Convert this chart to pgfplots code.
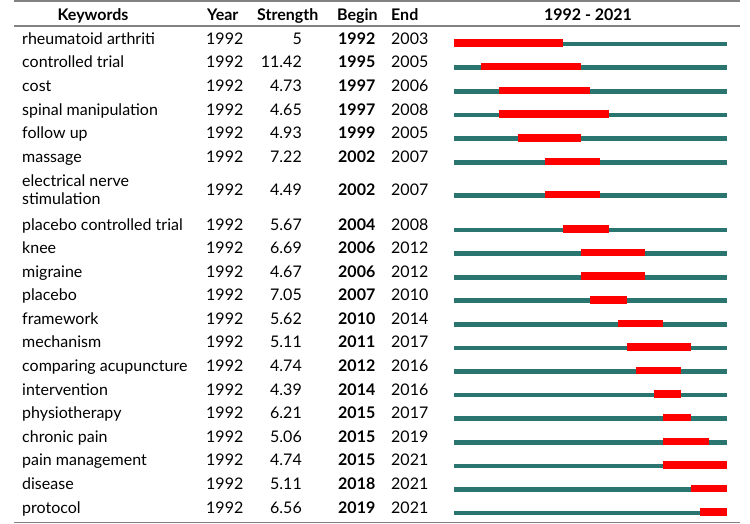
\documentclass[border=0pt]{standalone}
\usepackage{fontspec}
\setmainfont{Lato}
\usepackage{pgfplots}
\pgfplotsset{compat=1.18}
\definecolor{tealbar}{RGB}{42,117,112}
\definecolor{rulegray}{RGB}{130,130,130}
\newcommand{\fs}{\fontsize{16}{19}\selectfont}
% text row: y, keyword, strength, begin, end
\newcommand{\trow}[5]{%
  \node[anchor=base west,inner sep=0pt,font=\fs] at (axis cs:22,#1) {#2};
  \node[anchor=base west,inner sep=0pt,font=\fs] at (axis cs:206,#1) {1992};
  \node[anchor=base east,inner sep=0pt,font=\fs] at (axis cs:302,#1) {#3};
  \node[anchor=base west,inner sep=0pt,font=\fs\bfseries] at (axis cs:338,#1) {#4};
  \node[anchor=base west,inner sep=0pt,font=\fs] at (axis cs:391,#1) {#5};
}
% bar row: y, begin year, end year + 1
\newcommand{\brow}[3]{%
  \addplot[tealbar, line width=4.7pt, forget plot] coordinates {(1992,#1) (2022,#1)};
  \addplot[red, line width=7.5pt, forget plot] coordinates {(#2,#1-1) (#3,#1-1)};
}
\begin{document}
\begin{tikzpicture}
\begin{axis}[at={(0,0)}, anchor=origin, scale only axis, width=750pt, height=524pt,
  xmin=0, xmax=750, ymin=0, ymax=524, y dir=reverse, hide axis, clip=false]
\path (axis cs:0,0) rectangle (axis cs:750,524);
\draw[rulegray, line width=1.5pt] (axis cs:14,1) -- (axis cs:740,1);
\draw[rulegray, line width=1.2pt] (axis cs:14,26) -- (axis cs:740,26);
\draw[rulegray, line width=1.5pt] (axis cs:14,522.5) -- (axis cs:740,522.5);
\node[anchor=base,inner sep=0pt,font=\fs\bfseries] at (axis cs:93,20) {Keywords};
\node[anchor=base west,inner sep=0pt,font=\fs\bfseries] at (axis cs:207,20) {Year};
\node[anchor=base west,inner sep=0pt,font=\fs\bfseries] at (axis cs:257,20) {Strength};
\node[anchor=base west,inner sep=0pt,font=\fs\bfseries] at (axis cs:337,20) {Begin};
\node[anchor=base west,inner sep=0pt,font=\fs\bfseries] at (axis cs:391,20) {End};
\node[anchor=base,inner sep=0pt,font=\fs\bfseries] at (axis cs:588,20) {1992 - 2021};
\trow{44}{rheumatoid arthriti}{5}{1992}{2003}
\trow{67.7}{controlled trial}{11.42}{1995}{2005}
\trow{91.4}{cost}{4.73}{1997}{2006}
\trow{115}{spinal manipulation}{4.65}{1997}{2008}
\trow{138.8}{follow up}{4.93}{1999}{2005}
\trow{162.5}{massage}{7.22}{2002}{2007}
\trow{195.7}{}{4.49}{2002}{2007}
\node[anchor=base west,inner sep=0pt,font=\fs] at (axis cs:22,186) {electrical nerve};
\node[anchor=base west,inner sep=0pt,font=\fs] at (axis cs:22,204) {stimulation};
\trow{230}{placebo controlled trial}{5.67}{2004}{2008}
\trow{253.6}{knee}{6.69}{2006}{2012}
\trow{277.2}{migraine}{4.67}{2006}{2012}
\trow{300.8}{placebo}{7.05}{2007}{2010}
\trow{324.3}{framework}{5.62}{2010}{2014}
\trow{347.9}{mechanism}{5.11}{2011}{2017}
\trow{371.5}{comparing acupuncture}{4.74}{2012}{2016}
\trow{395.1}{intervention}{4.39}{2014}{2016}
\trow{418.7}{physiotherapy}{6.21}{2015}{2017}
\trow{442.3}{chronic pain}{5.06}{2015}{2019}
\trow{465.9}{pain management}{4.74}{2015}{2021}
\trow{489.5}{disease}{5.11}{2018}{2021}
\trow{513}{protocol}{6.56}{2019}{2021}
\end{axis}
\begin{axis}[at={(0,0)}, anchor=origin, scale only axis, width=750pt, height=524pt,
  xmin=1942.11, xmax=2024.53, ymin=0, ymax=524, y dir=reverse, hide axis, clip=false]
\brow{44}{1992}{2004}
\brow{67.7}{1995}{2006}
\brow{91.4}{1997}{2007}
\brow{115}{1997}{2009}
\brow{138.8}{1999}{2006}
\brow{162.5}{2002}{2008}
\brow{195.7}{2002}{2008}
\brow{230}{2004}{2009}
\brow{253.6}{2006}{2013}
\brow{277.2}{2006}{2013}
\brow{300.8}{2007}{2011}
\brow{324.3}{2010}{2015}
\brow{347.9}{2011}{2018}
\brow{371.5}{2012}{2017}
\brow{395.1}{2014}{2017}
\brow{418.7}{2015}{2018}
\brow{442.3}{2015}{2020}
\brow{465.9}{2015}{2022}
\brow{489.5}{2018}{2022}
\brow{513}{2019}{2022}
\end{axis}
\end{tikzpicture}
\end{document}
